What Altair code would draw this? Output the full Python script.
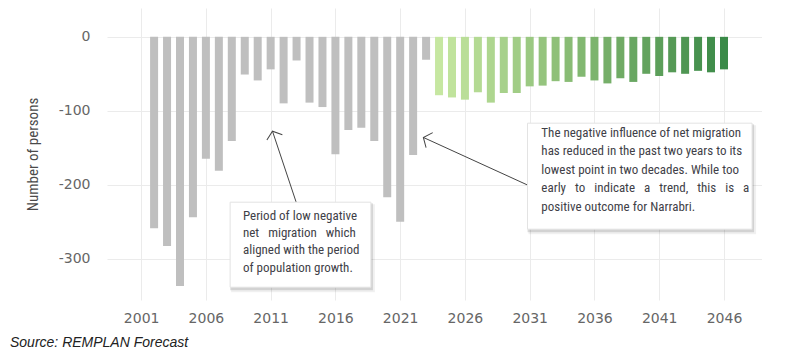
import altair as alt
import pandas as pd

# ---- data ----
years_hist = list(range(2002, 2024))
net_hist = [-259, -283, -337, -244, -165, -181, -141, -51, -59, -44, -90,
            -32, -89, -95, -159, -126, -123, -141, -217, -250, -160, -31]

years_fc = list(range(2024, 2047))
net_fc = [-79, -82, -85, -75, -89, -76, -76, -67, -66, -60, -61, -54,
          -59, -63, -56, -61, -50, -53, -48, -50, -46, -48, -44]

x_ticks = list(range(2001, 2047, 5))
y_ticks = [0, -100, -200, -300]

NB = "\u00a0"
note1 = ["Period of low negative",
         "net" + NB * 3 + "migration" + NB * 3 + "which",
         "aligned with the period",
         "of population growth."]
note2 = ["The negative influence of net migration",
         "has reduced in the past two years to its",
         "lowest point in two decades. While too",
         "early" + NB * 3 + "to" + NB * 3 + "indicate" + NB * 3 + "a" + NB * 3 + "trend,"
         + NB * 3 + "this" + NB * 3 + "is" + NB * 3 + "a",
         "positive outcome for Narrabri."]

hist = pd.DataFrame({"year": years_hist, "net": net_hist})
fc = pd.DataFrame({"year": years_fc, "net": net_fc})
one = pd.DataFrame({"k": [0]})

AX_FONT = "DejaVu Sans"
NOTE_FONT = "Roboto Condensed, Liberation Sans Narrow, DejaVu Sans Condensed, Arial Narrow, Roboto, sans-serif"
INK = "#3f3f48"

xs = alt.Scale(domain=[1998.75, 2048.55], nice=False, zero=False)
ys = alt.Scale(domain=[-356, 39], nice=False)

x_axis = alt.Axis(values=x_ticks, format="d", title=None, domain=False, ticks=False,
                  grid=True, gridColor="#ebebeb", labelFont=AX_FONT, labelFontSize=14,
                  labelColor="#666666", labelPadding=11)
y_axis = alt.Axis(values=y_ticks, title="Number of persons", domain=False,
                  labelExpr="'' + datum.value",
                  ticks=False, grid=True, gridColor="#ebebeb", labelFont=AX_FONT,
                  labelFontSize=14, labelColor="#666666", labelPadding=17,
                  titleFont=NOTE_FONT, titleFontSize=15, titleFontWeight="normal",
                  titleColor="#4a4a4a", titlePadding=18)

bars_hist = alt.Chart(hist).mark_bar(size=8, color="#bfbfbf").encode(
    x=alt.X("year:Q", scale=xs, axis=x_axis),
    y=alt.Y("net:Q", scale=ys, axis=y_axis),
    y2=alt.datum(0),
)

bars_fc = alt.Chart(fc).mark_bar(size=8).encode(
    x=alt.X("year:Q", scale=xs),
    y=alt.Y("net:Q", scale=ys),
    y2=alt.datum(0),
    color=alt.Color("year:Q", scale=alt.Scale(range=["#c6e7a1", "#3a8a48"]), legend=None),
)


def box(x1, x2, y1, y2):
    shadow2 = alt.Chart(one).mark_rect(fill="#000000", opacity=0.06, xOffset=1, yOffset=2,
                                       x2Offset=4, y2Offset=5).encode(
        x=alt.datum(x1), x2=alt.datum(x2), y=alt.datum(y1), y2=alt.datum(y2))
    shadow = alt.Chart(one).mark_rect(fill="#000000", opacity=0.12, xOffset=0, yOffset=1,
                                      x2Offset=2, y2Offset=3).encode(
        x=alt.datum(x1), x2=alt.datum(x2), y=alt.datum(y1), y2=alt.datum(y2))
    face = alt.Chart(one).mark_rect(fill="white", stroke="#e3e3e3", strokeWidth=1).encode(
        x=alt.datum(x1), x2=alt.datum(x2), y=alt.datum(y1), y2=alt.datum(y2))
    return shadow2 + shadow + face


def arrow(xt, yt, xh, yh, ang):
    line = alt.Chart(one).mark_rule(color="#444444", strokeWidth=1).encode(
        x=alt.datum(xt), y=alt.datum(yt), x2=alt.datum(xh), y2=alt.datum(yh))
    head = alt.Chart(one).mark_point(shape="M-0.78,0.63L0,0L0.78,0.63", filled=False,
                                     stroke="#444444", strokeWidth=1, size=440,
                                     angle=ang, opacity=1).encode(
        x=alt.datum(xh), y=alt.datum(yh))
    return line + head


arrow1 = arrow(2012.97, -223.7, 2011.14, -127.6, 341)
arrow2 = arrow(2030.86, -200.7, 2022.79, -136.1, 294)

box1 = box(2007.87, 2018.74, -223.7, -338.7)
box2 = box(2030.83, 2048.17, -116.8, -260.2)

text1 = alt.Chart(one).mark_text(text=note1, align="left", baseline="top", lineHeight=17.3,
                                 font=NOTE_FONT, fontSize=13, color=INK).encode(
    x=alt.datum(2008.86), y=alt.datum(-234.0))
text2 = alt.Chart(one).mark_text(text=note2, align="left", baseline="top", lineHeight=18.5,
                                 font=NOTE_FONT, fontSize=13, color=INK).encode(
    x=alt.datum(2031.9), y=alt.datum(-121.5))

source = alt.Chart(one).mark_text(align="left", baseline="middle", fontStyle="italic",
                                  font="Liberation Sans", fontSize=14, color="#222222").encode(
    x=alt.value(-97), y=alt.value(335), text=alt.value("Source: REMPLAN Forecast"))

chart = alt.layer(
    bars_hist, bars_fc, arrow1, arrow2, box1, box2, text1, text2, source
).properties(
    width=655, height=292,
    padding={"left": 2, "top": 0, "right": 0, "bottom": 0},
).configure_view(stroke=None)

chart.save("out.html", embed_options={"renderer": "svg", "actions": False})
